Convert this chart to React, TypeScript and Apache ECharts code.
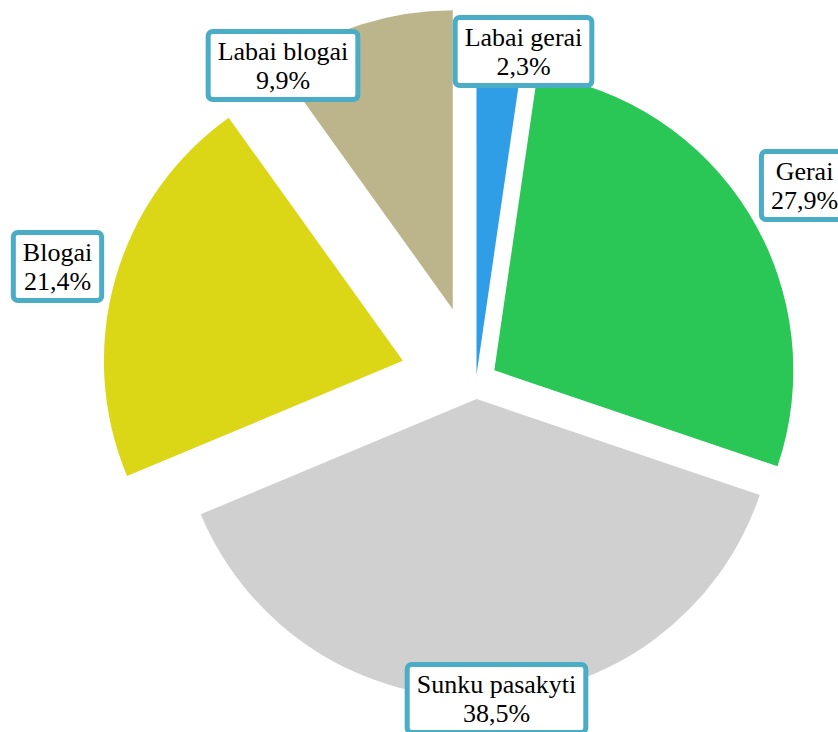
import React, { useEffect, useRef } from "react";
import * as echarts from "echarts";

const categories = ["Labai gerai", "Gerai", "Sunku pasakyti", "Blogai", "Labai blogai"];
const values = [2.3, 27.9, 38.5, 21.4, 9.9];
const colors = ["#2f9ee6", "#2ac656", "#d0d0d0", "#dcd716", "#bcb58b"];
const explode = [6.5, 21.5, 17.5, 76, 76];
const labelPos = [
  [523.5, 51.5],
  [804.5, 185.5],
  [496.5, 698.5],
  [57.5, 266.5],
  [283, 65.5],
];

export default function App() {
  const ref = useRef<HTMLDivElement>(null);
  useEffect(() => {
    if (!ref.current) return;
    const chart = echarts.init(ref.current, null, { renderer: "svg" });
    const total = values.reduce((a, b) => a + b, 0);
    const cx = 476;
    const cy = 381.5;
    const R = 299;
    let acc = 0;
    const series: any[] = values.map((v, i) => {
      const startDeg = (acc / total) * 360;
      const span = (v / total) * 360;
      acc += v;
      const mid = ((startDeg + span / 2) * Math.PI) / 180;
      const c = [cx + explode[i] * Math.sin(mid), cy - explode[i] * Math.cos(mid)];
      const pct = ((v / total) * 100).toFixed(1).replace(".", ",") + "%";
      return {
        type: "pie",
        center: c,
        radius: [0, R],
        startAngle: 90 - startDeg,
        clockwise: true,
        silent: true,
        avoidLabelOverlap: false,
        itemStyle: { borderWidth: 0 },
        emphasis: { disabled: true },
        labelLine: { show: false },
        label: {
          show: true,
          position: "inside",
          formatter: () => categories[i] + "\n" + pct,
          fontFamily: "'Liberation Serif', 'Times New Roman', serif",
          fontSize: 26,
          lineHeight: 29,
          color: "#000",
          align: "center",
          backgroundColor: "#fff",
          borderColor: "#4bacc6",
          borderWidth: 5,
          borderRadius: 2,
          padding: [3, 7, 2, 7],
        },
        labelLayout: {
          x: labelPos[i][0],
          y: labelPos[i][1],
          align: "center",
          verticalAlign: "middle",
        },
        data: [
          { name: categories[i], value: v, itemStyle: { color: colors[i] } },
          {
            name: "_rest",
            value: total - v,
            itemStyle: { color: "rgba(0,0,0,0)" },
            label: { show: false },
          },
        ],
      };
    });
    chart.setOption({ animation: false, series });
    return () => chart.dispose();
  }, []);
  return (
    <div
      ref={ref}
      style={{ position: "fixed", left: 0, top: 0, width: 838, height: 732, background: "#fff" }}
    />
  );
}
